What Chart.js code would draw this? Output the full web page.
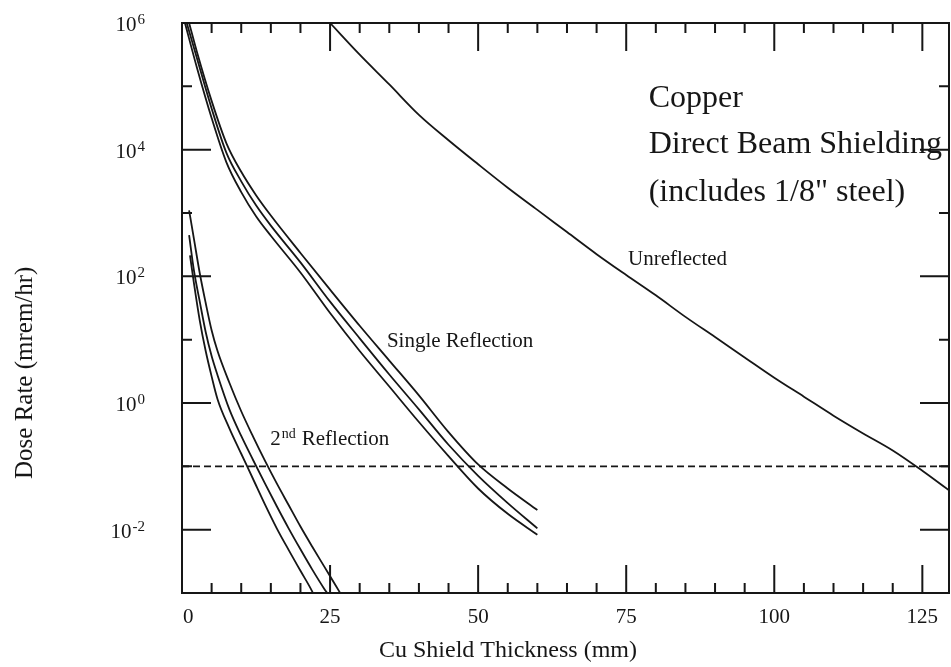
<!DOCTYPE html>
<html>
<head>
<meta charset="utf-8">
<script src="https://cdn.jsdelivr.net/npm/chart.js@4.4.1/dist/chart.umd.min.js"></script>
<style>
  html, body { margin: 0; padding: 0; background: #fff; }
  canvas { display: block; }
</style>
</head>
<body>
<canvas id="chart" width="951" height="667"></canvas>
<script>
// Unreflected beam
const unreflX = [25, 30, 35, 40, 45, 50, 55, 60, 65, 70, 75, 80, 85, 90, 95, 100, 105, 110, 115, 120, 125, 129.5];
const unreflY = [1e6, 3.16e5, 1.07e5, 3.55e4, 1.41e4, 5.89e3, 2.51e3, 1.12e3, 501, 224, 105, 50.1, 22.9, 11.0, 5.25, 2.51, 1.26, 0.631, 0.331, 0.178, 0.0851, 0.0417];

// Single reflection (three curves)
const singleAX = [1.2, 2.5, 5, 7.5, 10, 12.5, 15, 20, 25, 30, 35, 40, 45, 50, 55, 60];
const singleAY = [1e6, 3.55e5, 5.89e4, 1.26e4, 4.47e3, 1.91e3, 912, 234, 61.7, 16.6, 4.68, 1.32, 0.347, 0.107, 0.0447, 0.0204];
const singleBX = [0.8, 2.5, 5, 7.5, 10, 12.5, 15, 20, 25, 30, 35, 40, 45, 50, 55, 60];
const singleBY = [1e6, 2.82e5, 4.47e4, 8.91e3, 3.16e3, 1.32e3, 631, 166, 39.8, 10.5, 2.82, 0.794, 0.219, 0.0708, 0.0263, 0.0105];
const singleCX = [0.5, 2.5, 5, 7.5, 10, 12.5, 15, 20, 25, 30, 35, 40, 45, 50, 55, 60];
const singleCY = [1e6, 2.0e5, 3.16e4, 6.31e3, 2.14e3, 891, 437, 115, 26.3, 6.61, 1.82, 0.501, 0.145, 0.0447, 0.0178, 0.00832];

// 2nd reflection (three curves)
const secondAX = [1.2, 2, 3, 4, 5, 6, 8, 10, 12, 14, 16, 18, 20, 22, 24, 26, 26.7];
const secondAY = [1100, 398, 112, 38, 14.1, 6.61, 2.09, 0.741, 0.295, 0.123, 0.0537, 0.0245, 0.0112, 0.00537, 0.00263, 0.00129, 0.001];
const secondBX = [1.2, 2, 3, 4, 5, 6, 8, 10, 12, 14, 16, 18, 20, 22, 24, 24.5];
const secondBY = [447, 126, 39.8, 13.2, 5.5, 2.75, 0.794, 0.302, 0.126, 0.0537, 0.0234, 0.0105, 0.0049, 0.00234, 0.00117, 0.001];
const secondCX = [1.35, 2, 3, 4, 5, 6, 8, 10, 12, 14, 16, 18, 20, 22, 22.1];
const secondCY = [214, 79.4, 20.0, 6.61, 2.63, 1.15, 0.398, 0.158, 0.0631, 0.0251, 0.0105, 0.00479, 0.00224, 0.00105, 0.001];

// dose limit line
const limitX = [0, 129.5];
const limitY = [0.1, 0.1];

// axes
const xMin = 0, xMax = 129.5;
const yMin = 1e-3, yMax = 1e6;
const xMajorTicks = [25, 50, 75, 100, 125];
const xMinorTicks = [5, 10, 15, 20, 30, 35, 40, 45, 55, 60, 65, 70, 80, 85, 90, 95, 105, 110, 115, 120];
const yMajorTicks = [1e-2, 1, 1e2, 1e4];
const yMinorTicks = [1e-1, 1e1, 1e3, 1e5];
const xLabelValues = [0, 25, 50, 75, 100, 125];
const yLabelValues = [1e6, 1e4, 1e2, 1, 1e-2];
const yLabelExps = ['6', '4', '2', '0', '-2'];

const SERIF = '"Liberation Serif", "DejaVu Serif", serif';
const INK = '#161616';

const pts = (xs, ys) => xs.map((x, i) => ({ x: x, y: ys[i] }));

const curve = (xs, ys) => ({
  data: pts(xs, ys),
  borderColor: INK,
  borderWidth: 1.8,
  pointRadius: 0,
  fill: false,
  cubicInterpolationMode: 'monotone'
});

const decorations = {
  id: 'decorations',
  afterDraw(chart) {
    const ctx = chart.ctx;
    const a = chart.chartArea;
    const xs = chart.scales.x;
    const ys = chart.scales.y;
    ctx.save();
    ctx.strokeStyle = INK;
    ctx.fillStyle = INK;
    ctx.lineWidth = 2;

    // frame
    ctx.strokeRect(a.left, a.top, a.right - a.left, a.bottom - a.top);

    // inward ticks
    const tickX = (v, len) => {
      const px = xs.getPixelForValue(v);
      ctx.beginPath();
      ctx.moveTo(px, a.bottom); ctx.lineTo(px, a.bottom - len);
      ctx.moveTo(px, a.top); ctx.lineTo(px, a.top + len);
      ctx.stroke();
    };
    const tickY = (v, len) => {
      const py = ys.getPixelForValue(v);
      ctx.beginPath();
      ctx.moveTo(a.left, py); ctx.lineTo(a.left + len, py);
      ctx.moveTo(a.right, py); ctx.lineTo(a.right - len, py);
      ctx.stroke();
    };
    xMajorTicks.forEach(v => tickX(v, 28));
    xMinorTicks.forEach(v => tickX(v, 10));
    yMajorTicks.forEach(v => tickY(v, 29));
    yMinorTicks.forEach(v => tickY(v, 10));

    // x tick labels
    ctx.font = '21px ' + SERIF;
    ctx.textBaseline = 'alphabetic';
    xLabelValues.forEach(v => {
      const px = xs.getPixelForValue(v);
      ctx.textAlign = v === 0 ? 'left' : 'center';
      ctx.fillText(String(v), v === 0 ? px + 1 : px, a.bottom + 30);
    });

    // y tick labels: 10 with raised exponent
    ctx.textAlign = 'left';
    yLabelValues.forEach((v, i) => {
      const py = ys.getPixelForValue(v);
      ctx.font = '21px ' + SERIF;
      const wBase = ctx.measureText('10').width;
      ctx.font = '15px ' + SERIF;
      const wExp = ctx.measureText(yLabelExps[i]).width;
      const x0 = a.left - 38 - wBase - wExp;
      ctx.font = '21px ' + SERIF;
      ctx.fillText('10', x0, py + 8);
      ctx.font = '15px ' + SERIF;
      ctx.fillText(yLabelExps[i], x0 + wBase + 1, py + 1);
    });

    // axis titles
    ctx.font = '24px ' + SERIF;
    ctx.textAlign = 'center';
    ctx.fillText('Cu Shield Thickness (mm)', 508, a.bottom + 64);
    ctx.save();
    ctx.font = '25px ' + SERIF;
    ctx.translate(32, 479);
    ctx.rotate(-Math.PI / 2);
    ctx.textAlign = 'left';
    ctx.fillText('Dose Rate (mrem/hr)', 0, 0);
    ctx.restore();

    // in-plot annotations, anchored in data units
    const at = (x, yv) => [xs.getPixelForValue(x), ys.getPixelForValue(yv)];
    ctx.textAlign = 'left';
    ctx.font = '32px ' + SERIF;
    let p = at(78.8, 4.7e4);
    ctx.fillText('Copper', p[0], p[1]);
    p = at(78.8, 8.9e3);
    ctx.fillText('Direct Beam Shielding', p[0], p[1]);
    p = at(78.8, 1.55e3);
    ctx.fillText('(includes 1/8" steel)', p[0], p[1]);

    ctx.font = '21px ' + SERIF;
    p = at(75.3, 150);
    ctx.fillText('Unreflected', p[0], p[1]);
    p = at(34.6, 7.6);
    ctx.fillText('Single Reflection', p[0], p[1]);
    p = at(14.9, 0.218);
    ctx.fillText('2', p[0], p[1]);
    const w2 = ctx.measureText('2').width;
    ctx.font = '14px ' + SERIF;
    ctx.fillText('nd', p[0] + w2 + 1, p[1] - 7);
    const wnd = ctx.measureText('nd').width;
    ctx.font = '21px ' + SERIF;
    ctx.fillText('Reflection', p[0] + w2 + wnd + 7, p[1]);

    ctx.restore();
  }
};

new Chart(document.getElementById('chart'), {
  type: 'line',
  data: {
    datasets: [
      curve(unreflX, unreflY),
      curve(singleAX, singleAY),
      curve(singleBX, singleBY),
      curve(singleCX, singleCY),
      curve(secondAX, secondAY),
      curve(secondBX, secondBY),
      curve(secondCX, secondCY),
      {
        data: pts(limitX, limitY),
        borderColor: INK,
        borderWidth: 1.6,
        borderDash: [7, 4],
        pointRadius: 0,
        fill: false
      }
    ]
  },
  options: {
    responsive: false,
    animation: false,
    devicePixelRatio: 1,
    layout: { padding: { left: 182, right: 2, top: 23, bottom: 74 } },
    plugins: { legend: { display: false }, tooltip: { enabled: false } },
    scales: {
      x: { type: 'linear', min: xMin, max: xMax, display: false },
      y: { type: 'logarithmic', min: yMin, max: yMax, display: false }
    }
  },
  plugins: [decorations]
});
</script>
</body>
</html>
